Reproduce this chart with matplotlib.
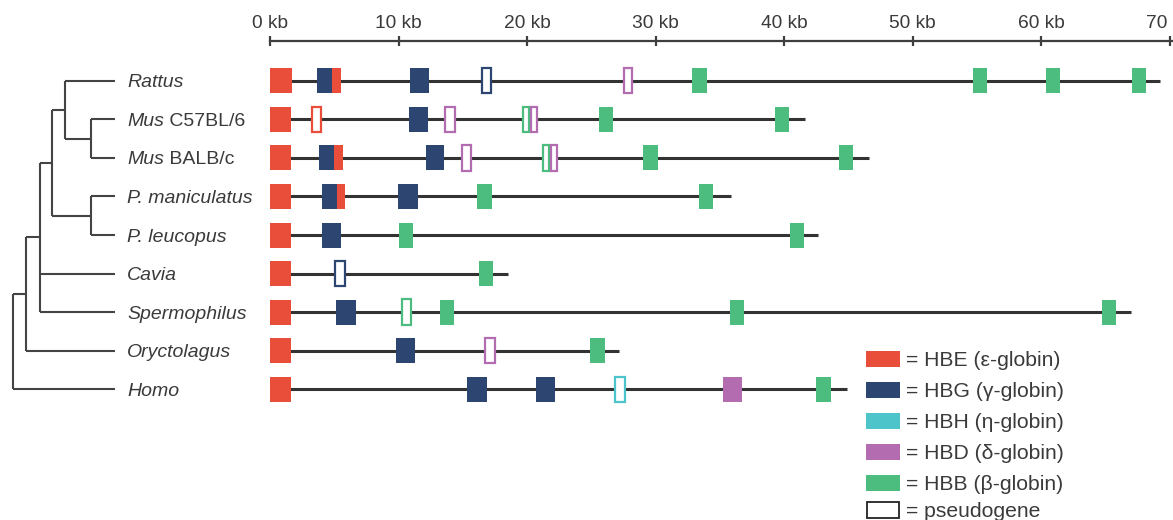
import matplotlib
matplotlib.use("Agg")
import matplotlib.pyplot as plt
from matplotlib.patches import Rectangle

plt.rcParams['font.family'] = ['Liberation Sans', 'DejaVu Sans']

# ---------------- data ----------------
species_italic = ["Rattus", "Mus", "Mus", "P. maniculatus", "P. leucopus",
                  "Cavia", "Spermophilus", "Oryctolagus", "Homo"]
species_suffix = ["", " C57BL/6", " BALB/c", "", "", "", "", "", ""]

# locus length (kb)
locus_end = [69.26, 41.63, 46.61, 35.85, 42.67, 18.55, 67.0, 27.16, 44.88]

# genes per species: (start kb, end kb, gene type, pseudogene?)
genes = [
    [(0, 1.69, "HBE", False), (3.68, 4.80, "HBG", False), (4.80, 5.53, "HBE", False),
     (10.89, 12.39, "HBG", False), (16.40, 17.30, "HBG", True), (27.45, 28.27, "HBD", True),
     (32.86, 33.98, "HBB", False), (54.68, 55.77, "HBB", False), (60.39, 61.48, "HBB", False),
     (67.06, 68.17, "HBB", False)],
    [(0, 1.61, "HBE", False), (3.19, 4.07, "HBE", True), (10.82, 12.32, "HBG", False),
     (13.57, 14.45, "HBD", True), (19.58, 20.23, "HBB", True), (20.23, 20.83, "HBD", True),
     (25.60, 26.67, "HBB", False), (39.30, 40.41, "HBB", False)],
    [(0, 1.61, "HBE", False), (3.84, 4.98, "HBG", False), (4.98, 5.70, "HBE", False),
     (12.11, 13.57, "HBG", False), (14.84, 15.70, "HBD", True), (21.14, 21.79, "HBB", True),
     (21.79, 22.39, "HBD", True), (29.05, 30.17, "HBB", False), (44.28, 45.39, "HBB", False)],
    [(0, 1.61, "HBE", False), (4.02, 5.19, "HBG", False), (5.19, 5.84, "HBE", False),
     (9.99, 11.49, "HBG", False), (16.13, 17.25, "HBB", False), (33.41, 34.50, "HBB", False)],
    [(0, 1.61, "HBE", False), (4.02, 5.50, "HBG", False), (10.04, 11.10, "HBB", False),
     (40.47, 41.56, "HBB", False)],
    [(0, 1.61, "HBE", False), (5.01, 5.89, "HBG", True), (16.26, 17.38, "HBB", False)],
    [(0, 1.61, "HBE", False), (5.14, 6.67, "HBG", False), (10.17, 11.07, "HBB", True),
     (13.23, 14.34, "HBB", False), (35.80, 36.91, "HBB", False), (64.72, 65.84, "HBB", False)],
    [(0, 1.61, "HBE", False), (9.78, 11.28, "HBG", False), (16.68, 17.59, "HBD", True),
     (24.90, 26.07, "HBB", False)],
    [(0, 1.61, "HBE", False), (15.36, 16.86, "HBG", False), (20.67, 22.18, "HBG", False),
     (26.79, 27.70, "HBH", True), (35.23, 36.76, "HBD", False), (42.49, 43.63, "HBB", False)],
]

gene_types = ["HBE", "HBG", "HBH", "HBD", "HBB"]
legend_labels = ["= HBE (\u03b5-globin)", "= HBG (\u03b3-globin)", "= HBH (\u03b7-globin)",
                 "= HBD (\u03b4-globin)", "= HBB (\u03b2-globin)", "= pseudogene"]

tick_values = [0, 10, 20, 30, 40, 50, 60, 70]
tick_labels = ["0 kb", "10 kb", "20 kb", "30 kb", "40 kb", "50 kb", "60 kb", "70 kb"]

# tree topology (leaf = row index); internal node = (x pixel, [children])
tree = (13.3, [(26, [(40, [(51.7, [(65, [0, (90.7, [1, 2])]), (90.7, [3, 4])]), 5, 6]), 7]), 8])

# ---------------- style ----------------
colors = {"HBE": "#E94E3A", "HBG": "#2C4571", "HBH": "#4CC4C9",
          "HBD": "#B36CB0", "HBB": "#4CBD7E"}
text_color = "#3a3a3a"
line_color = "#333333"
FS_TICK = 13.8
FS_SPECIES = 14.0
FS_LEG = 15.2

W, H = 1173, 520
fig = plt.figure(figsize=(W / 100, H / 100), dpi=100)

px_per_kb = 12.85
x0_px = 270
row0_px, row_step = 80.7, 38.58


def row_from_px(p):
    return (p - row0_px) / row_step


ylim = (row_from_px(H), row_from_px(0))

# gene axes: full figure, x in kb, y in rows
ax = fig.add_axes([0, 0, 1, 1])
ax.set_xlim(-x0_px / px_per_kb, (W - x0_px) / px_per_kb)
ax.set_ylim(*ylim)
ax.patch.set_alpha(0)
for s in ["left", "right", "bottom"]:
    ax.spines[s].set_visible(False)
ax.spines["top"].set_position(("data", row_from_px(41.3)))
ax.spines["top"].set_bounds(0, (W - x0_px) / px_per_kb)
ax.spines["top"].set_linewidth(1.6)
ax.spines["top"].set_color("#3f3f3f")
ax.xaxis.set_ticks_position("top")
ax.xaxis.set_label_position("top")
ax.set_xticks(tick_values)
ax.set_xticklabels(tick_labels)
ax.tick_params(axis="x", direction="inout", length=7.5, width=1.6, color="#3f3f3f",
               labelsize=FS_TICK, labelcolor=text_color, pad=3.0)
ax.set_yticks([])

box_h = 25 / row_step
for i, (glist, end) in enumerate(zip(genes, locus_end)):
    ax.plot([0, end], [i, i], color=line_color, lw=2.2, solid_capstyle="butt", zorder=1)
    for (a, b, g, pseudo) in glist:
        if pseudo:
            lw = 1.6
            dx = (lw / 72 * 100 / 2) / px_per_kb
            dy = (lw / 72 * 100 / 2) / row_step
            r = Rectangle((a + dx, i - box_h / 2 - dy * 0.2), (b - a) - 2 * dx, box_h + 0.4 * dy,
                          facecolor="white", edgecolor=colors[g], lw=lw, zorder=3)
        else:
            r = Rectangle((a, i - box_h / 2), b - a, box_h, facecolor=colors[g],
                          edgecolor="none", zorder=2)
        ax.add_patch(r)

# overlay axes: x in pixels, y in rows (tree, labels, legend)
ov = fig.add_axes([0, 0, 1, 1])
ov.set_xlim(0, W)
ov.set_ylim(*ylim)
ov.axis("off")
ov.patch.set_alpha(0)

leaf_x = 115
tree_kw = dict(color="#444444", lw=1.5, solid_capstyle="butt")


def draw(node):
    if isinstance(node, int):
        return node, leaf_x
    x, children = node
    ys = []
    for c in children:
        cy, cx = draw(c)
        ov.plot([x, cx], [cy, cy], **tree_kw)
        ys.append(cy)
    ov.plot([x, x], [min(ys), max(ys)], **tree_kw)
    return (ys[0] + ys[-1]) / 2, x


draw(tree)

label_x = 127
for i, (it, suf) in enumerate(zip(species_italic, species_suffix)):
    t = ov.text(label_x, i + 6.6 / row_step, it, style="italic", fontsize=FS_SPECIES,
                color=text_color, va="baseline", ha="left")
    if suf:
        ov.annotate(suf, xy=(1, 0), xycoords=t, fontsize=FS_SPECIES, color=text_color,
                    va="bottom", ha="left")

# legend
leg_centers_px = [359, 390, 421, 452, 483, 510]
for k, lab in enumerate(legend_labels):
    cy = row_from_px(leg_centers_px[k])
    bh = 16.5 / row_step
    if k < len(gene_types):
        ov.add_patch(Rectangle((866, cy - bh / 2), 34, bh, facecolor=colors[gene_types[k]],
                               edgecolor="none"))
    else:
        ov.add_patch(Rectangle((867, cy - bh / 2), 32, bh, facecolor="white",
                               edgecolor="#222222", lw=1.3))
    ov.text(906, cy + 7.3 / row_step, lab, fontsize=FS_LEG, color=text_color,
            va="baseline", ha="left")

fig.savefig("out.png", dpi=100)
